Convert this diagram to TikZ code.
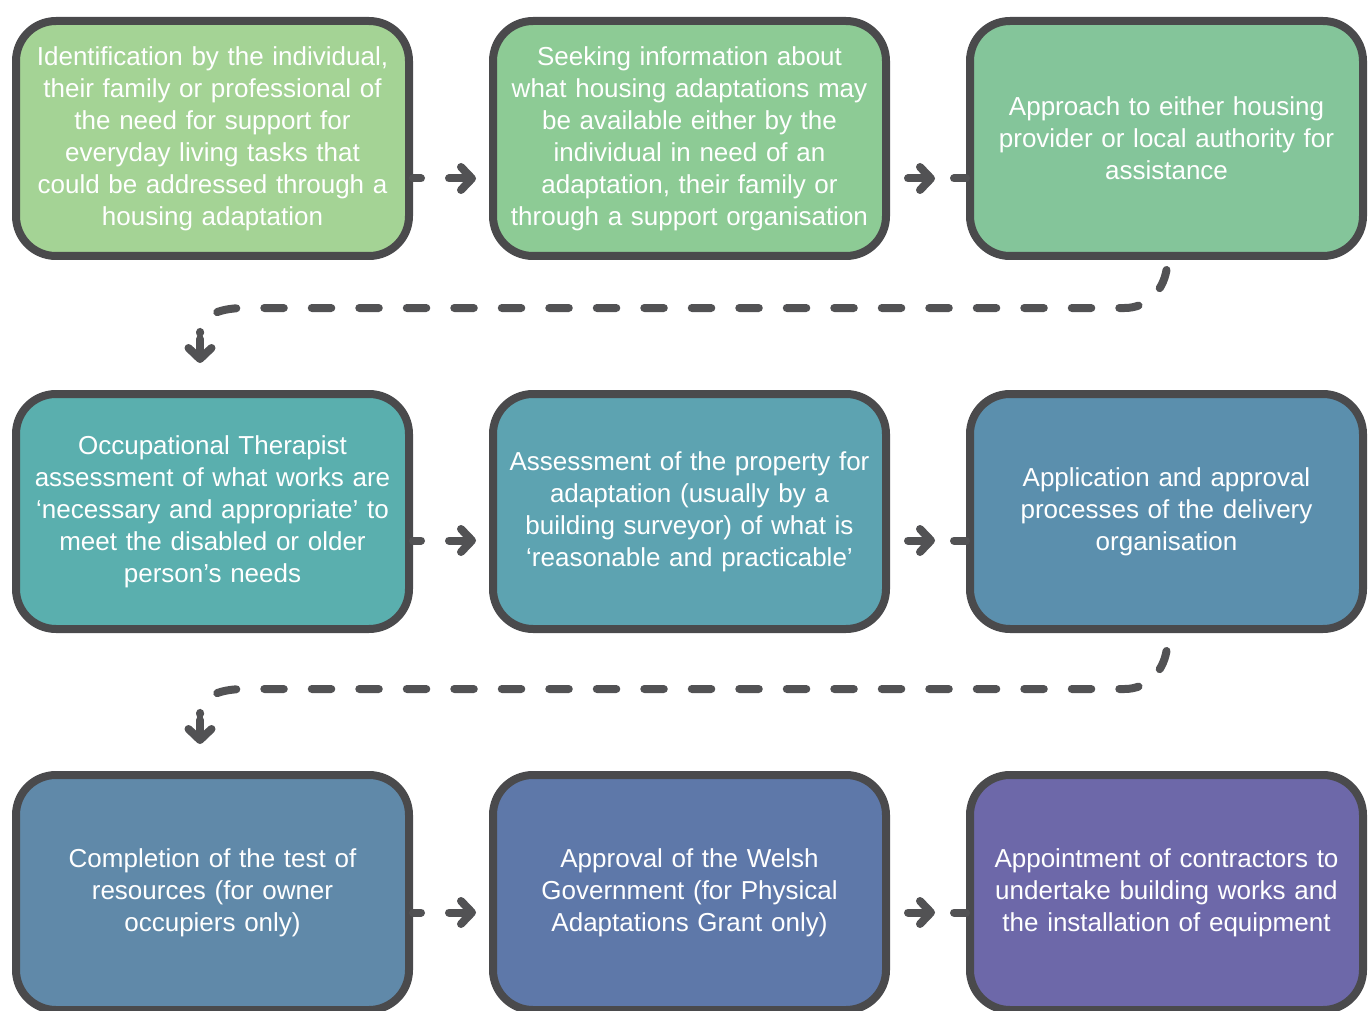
\documentclass[tikz,border=0pt]{standalone}
\usepackage{fontspec}
\usepackage{tikz}
\usetikzlibrary{arrows.meta}
\newfontfamily\stagefont{Liberation Sans}

\definecolor{edgegray}{HTML}{4A4A4C}
\definecolor{linkgray}{HTML}{525254}
\definecolor{stageA}{HTML}{A4D395}
\definecolor{stageB}{HTML}{8DCB95}
\definecolor{stageC}{HTML}{84C59A}
\definecolor{stageD}{HTML}{5AAFAE}
\definecolor{stageE}{HTML}{5DA3B1}
\definecolor{stageF}{HTML}{5B8FAD}
\definecolor{stageG}{HTML}{6089A9}
\definecolor{stageH}{HTML}{5E78A9}
\definecolor{stageI}{HTML}{6D68A9}

\tikzset{
    stage/.style={draw=edgegray, line width=8pt, rounded corners=40pt,
        minimum width=393pt, minimum height=235pt, inner sep=0pt,
        text width=385pt, align=center, text=white,
        font=\stagefont\fontsize{26}{32}\selectfont},
    stub/.style={draw=linkgray, line width=8pt, line cap=round},
    flow/.style={stub, -{Straight Barb[length=11pt,width=23pt,round]}},
    dashlink/.style={stub, dash pattern=on 19.5pt off 28pt}
}

\begin{document}
\begin{tikzpicture}[x=1pt,y=1pt]
    \useasboundingbox (0,0) rectangle (1371,-1011);
    % First row
    \node[stage, fill=stageA] (b1) at (212.5,-138.5) {Identification by the individual,\\ their family or professional of\\ the need for support for\\ everyday living tasks that\\ could be addressed through a\\ housing adaptation};
    \node[stage, fill=stageB] (b2) at (689.5,-138.5) {Seeking information about\\ what housing adaptations may\\ be available either by the\\ individual in need of an\\ adaptation, their family or\\ through a support organisation};
    \node[stage, fill=stageC] (b3) at (1166.5,-138.5) {Approach to either housing\\ provider or local authority for\\ assistance};
    % Second row
    \node[stage, fill=stageD] (b4) at (212.5,-511.5) {Occupational Therapist\\ assessment of what works are\\ ‘necessary and appropriate’ to\\ meet the disabled or older\\ person’s needs};
    \node[stage, fill=stageE] (b5) at (689.5,-511.5) {Assessment of the property for\\ adaptation (usually by a\\ building surveyor) of what is\\ ‘reasonable and practicable’};
    \node[stage, fill=stageF] (b6) at (1166.5,-511.5) {Application and approval\\ processes of the delivery\\ organisation};
    % Third row
    \node[stage, fill=stageG] (b7) at (212.5,-892.5) {Completion of the test of\\ resources (for owner\\ occupiers only)};
    \node[stage, fill=stageH] (b8) at (689.5,-892.5) {Approval of the Welsh\\ Government (for Physical\\ Adaptations Grant only)};
    \node[stage, fill=stageI] (b9) at (1166.5,-892.5) {Appointment of contractors to\\ undertake building works and\\ the installation of equipment};

    % Links along the first row
    \draw[stub] ([yshift=-40pt]b1.east) -- ++(8,0);
    \draw[flow] ([xshift=36pt,yshift=-40pt]b1.east) -- ([xshift=-13pt,yshift=-40pt]b2.west);
    \draw[flow] ([xshift=18pt,yshift=-40pt]b2.east) -- ([xshift=-31pt,yshift=-40pt]b3.west);
    \draw[stub] ([yshift=-40pt]b3.west) -- ++(-12,0);
    % Links along the second row
    \draw[stub] ([yshift=-29pt]b4.east) -- ++(8,0);
    \draw[flow] ([xshift=36pt,yshift=-29pt]b4.east) -- ([xshift=-13pt,yshift=-29pt]b5.west);
    \draw[flow] ([xshift=18pt,yshift=-29pt]b5.east) -- ([xshift=-31pt,yshift=-29pt]b6.west);
    \draw[stub] ([yshift=-29pt]b6.west) -- ++(-12,0);
    % Links along the third row
    \draw[stub] ([yshift=-20pt]b7.east) -- ++(8,0);
    \draw[flow] ([xshift=36pt,yshift=-20pt]b7.east) -- ([xshift=-13pt,yshift=-20pt]b8.west);
    \draw[flow] ([xshift=18pt,yshift=-20pt]b8.east) -- ([xshift=-31pt,yshift=-20pt]b9.west);
    \draw[stub] ([yshift=-20pt]b9.west) -- ++(-12,0);

    % Dashed returns to the next row
    \coordinate (drop1) at (200,-333);
    \draw[dashlink] ([yshift=-10pt]b3.south) to[out=-100,in=0] ++(-42,-38) -- ++(-880,0) to[out=180,in=90] (drop1);
    \draw[flow] ([yshift=-6pt]drop1) -- ([xshift=-12.5pt,yshift=27pt]b4.north);
    \coordinate (drop2) at (200,-714);
    \draw[dashlink] ([yshift=-18pt]b6.south) to[out=-100,in=0] ++(-42,-38) -- ++(-880,0) to[out=180,in=90] (drop2);
    \draw[flow] ([yshift=-6pt]drop2) -- ([xshift=-12.5pt,yshift=27pt]b7.north);
\end{tikzpicture}
\end{document}
